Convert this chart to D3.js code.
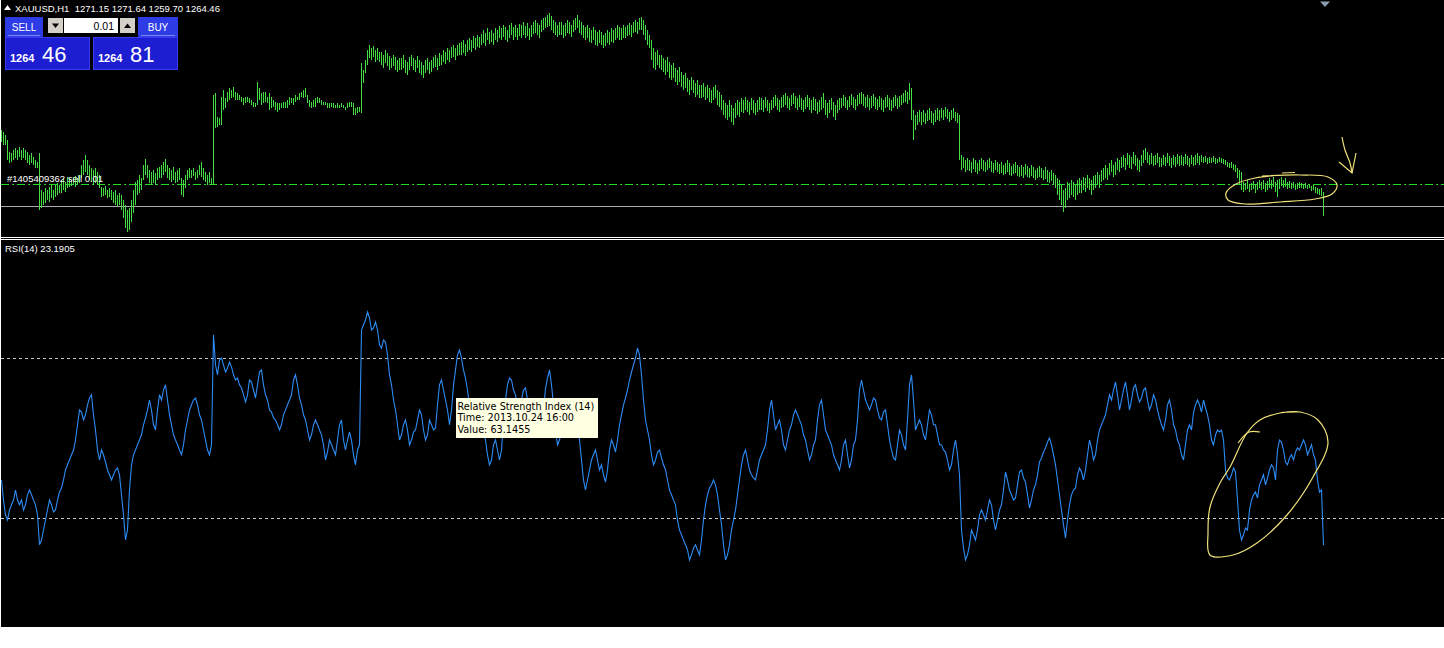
<!DOCTYPE html>
<html>
<head>
<meta charset="utf-8">
<script src="https://cdnjs.cloudflare.com/ajax/libs/d3/7.8.5/d3.min.js"></script>
<style>
  body { margin: 0; background: #fff; }
  svg { display: block; }
  text { font-family: "Liberation Sans", Arial, sans-serif; }
  .tooltip text { font-family: "DejaVu Sans", sans-serif; }
</style>
</head>
<body>
<div id="chart"></div>
<script>
// XAUUSD H1 bars (high / low), one value per hourly bar
var barHigh = [
  1302.5,1301.5,1300,1297.5,1291.5,1291,1292.5,1293.5,1292.5,1294,
  1292.5,1293.5,1292.5,1291.5,1290,1291,1289,1287.5,1286.5,1291,
  1272.5,1271.5,1273.5,1272.5,1274,1275,1272.5,1275,1276,1275,
  1277.5,1278.5,1276.5,1279,1278.5,1277.5,1279,1279.5,1278.5,1280,
  1285,1287.5,1290,1287.5,1285,1283.5,1282.5,1283.5,1281.5,1280,
  1274,1273.5,1274.5,1272.5,1273.5,1272.5,1271.5,1272.5,1270,1271,
  1270,1267.5,1265,1262.5,1263.5,1267.5,1272.5,1276.5,1277.5,1280,
  1278.5,1285,1288,1285,1282.5,1281.5,1282.5,1281,1283.5,1284,
  1285,1286.5,1288,1285,1283.5,1282.5,1284,1281.5,1282.5,1283.5,
  1278.5,1277.5,1280,1282.5,1283.5,1282.5,1283.5,1281.5,1282.5,1285,
  1286.5,1283.5,1281.5,1280,1281.5,1278.5,1320,1321,1309,1308.5,
  1319,1322.5,1318.5,1321.5,1323.5,1322.5,1324,1321.5,1321,1320,
  1319,1318.5,1319,1319,1318.5,1317.5,1316.5,1316,1326.5,1323.5,
  1321,1321.5,1321.5,1319,1321,1319,1317.5,1316.5,1316,1316,
  1316,1316.5,1316.5,1317.5,1319,1318.5,1318.5,1320,1319,1321,
  1321.5,1322.5,1323.5,1320,1317.5,1316.5,1317.5,1318.5,1319,1318.5,
  1317.5,1316.5,1316.5,1316,1316,1316,1316,1315,1316,1315,
  1316,1315,1314,1316,1316.5,1316.5,1316,1313.5,1314,1314,
  1336,1332.5,1337.5,1342.5,1345,1343.5,1344.5,1342.5,1343.5,1341.5,
  1341.5,1340,1342.5,1341,1339.5,1338.5,1340,1339,1337.5,1338.5,
  1338.5,1340,1337.5,1336.5,1339,1340,1338.5,1337.5,1339.5,1337.5,
  1336.5,1335,1337.5,1338.5,1336.5,1337.5,1339,1340,1338.5,1341,
  1340,1342.5,1341.5,1343.5,1342.5,1344,1345,1343.5,1345,1346,
  1346.5,1347.5,1345.5,1347.5,1348.5,1347.5,1349.5,1348.5,1350,1349,
  1350.5,1352.5,1351,1353.5,1351.5,1352.5,1351,1353.5,1352.5,1354.5,
  1353.5,1355,1354,1352.5,1355,1356,1354,1355,1353.5,1355.5,
  1355,1356.5,1354.5,1356,1353.5,1355,1356.5,1357.5,1356,1355,
  1357.5,1358.5,1359,1360,1361,1359.5,1357.5,1356.5,1355,1356.5,
  1356.5,1355,1356,1357.5,1356.5,1355,1357.5,1358.5,1360,1357.5,
  1356.5,1355,1354,1355,1353.5,1352.5,1354,1352.5,1351.5,1352.5,
  1351.5,1350,1351,1352.5,1351.5,1353.5,1352.5,1353.5,1355,1354,
  1353.5,1355,1354,1355,1356,1355,1356.5,1357.5,1356.5,1358.5,
  1359,1357.5,1355,1352.5,1350,1347.5,1343.5,1341.5,1342.5,1340,
  1340,1338.5,1337.5,1339,1336.5,1335,1336,1333.5,1332.5,1334,
  1331.5,1330,1331,1328.5,1327.5,1329,1327.5,1326,1327.5,1325,
  1325,1326,1324,1325,1323.5,1322.5,1324,1325,1322.5,1321.5,
  1320,1317.5,1316,1315,1317.5,1315,1313.5,1316,1317.5,1316.5,
  1318.5,1317.5,1319,1317.5,1316.5,1318.5,1317.5,1316,1317.5,1319,
  1318.5,1317.5,1319,1317.5,1316,1317.5,1319,1320,1318.5,1317.5,
  1319,1320,1321,1319.5,1318.5,1320,1321,1319.5,1318.5,1320,
  1318.5,1317.5,1319,1320,1318.5,1317.5,1319,1318,1316.5,1317.5,
  1319,1321,1317.5,1316,1317.5,1318.5,1316.5,1315,1317.5,1318.5,
  1318.5,1320,1319,1317.5,1319.5,1320.5,1319,1318,1320,1321,
  1321.5,1320.5,1319,1320,1318.5,1319.5,1320.5,1319,1318,1319.5,
  1318.5,1317.5,1319,1320,1318.5,1317.5,1319,1320,1318.5,1319.5,
  1320,1321,1322.5,1321.5,1326,1323.5,1312.5,1310,1311.5,1312.5,
  1311.5,1312.5,1311,1312.5,1313.5,1312,1311,1312.5,1313.5,1312.5,
  1313.5,1312.5,1314,1313,1311.5,1312.5,1313.5,1311.5,1311,1310,
  1290,1289,1287.5,1288.5,1287.5,1286.5,1288.5,1287.5,1286,1287.5,
  1288.5,1287.5,1286.5,1287.5,1288.5,1287,1286,1287.5,1286.5,1285.5,
  1286.5,1285,1286,1287.5,1286,1284.5,1285.5,1286.5,1285,1284,
  1285,1284,1285.5,1284.5,1283.5,1285,1284,1282.5,1283.5,1284.5,
  1283.5,1282.5,1284,1282.5,1281.5,1282.5,1281,1280,1278.5,1277.5,
  1275,1272.5,1273.5,1276.5,1276,1277.5,1276.5,1275,1277.5,1278.5,
  1277.5,1279,1278.5,1280,1278.5,1277.5,1279.5,1280,1281.5,1280,
  1282.5,1283.5,1285,1283.5,1286,1287.5,1285,1286.5,1288.5,1287.5,
  1289,1290,1288.5,1291,1290,1289,1291.5,1290,1288.5,1287.5,
  1290,1292.5,1293.5,1291.5,1290,1291,1289.5,1290,1291,1289,
  1288.5,1290,1289,1291,1289.5,1288.5,1290,1289,1290.5,1289.5,
  1290,1289,1290.5,1289.5,1288.5,1290,1289,1290,1291,1289.5,
  1290,1289,1289.5,1288.5,1289,1288.5,1289.5,1288.5,1288,1289,
  1288.5,1288,1287.5,1286.5,1286,1286.5,1285.5,1285,1283.5,1282.5,
  1281.5,1276.5,1276,1277.5,1275.5,1276,1277,1275.5,1276.5,1277.5,
  1276.5,1277.5,1276,1277,1278.5,1277.5,1279,1276.5,1277.5,1278,
  1279,1277.5,1278.5,1276.5,1277,1276,1276.5,1275.5,1276,1276.5,
  1276,1275.5,1276,1275,1275.5,1274.5,1275,1274,1273.5,1273,1273.5,1271.64
];

var barLow = [
  1296.5,1295,1295,1287.5,1286,1286.5,1287.5,1288.5,1287.5,1289,
  1287.5,1288.5,1287.5,1286,1285,1286,1285,1283.5,1283.5,1262.5,
  1263.5,1265,1266,1267.5,1266.5,1268.5,1267.5,1269,1270,1271,
  1271,1272.5,1271.5,1273.5,1274,1274.5,1275,1274,1275.5,1276,
  1278.5,1280,1281.5,1280,1277.5,1276.5,1275,1276,1275,1273.5,
  1269,1269.5,1270,1268.5,1269,1267.5,1266,1265,1264,1265,
  1262.5,1258.5,1253.5,1251.5,1252.5,1256.5,1261,1265,1270,1271,
  1272.5,1277.5,1280,1278.5,1276,1275,1276,1275,1277.5,1278.5,
  1278.5,1280,1281.5,1278.5,1277.5,1276.5,1277.5,1276,1276.5,1277.5,
  1270,1269,1273.5,1277.5,1278.5,1278.5,1279.5,1277.5,1278.5,1280,
  1279,1277.5,1276.5,1275,1276,1275,1275,1303.5,1304,1305,
  1305,1312.5,1313.5,1316.5,1317.5,1318.5,1319,1317.5,1317.5,1317.5,
  1316.5,1315,1316,1316.5,1316,1315,1314,1314,1315,1317.5,
  1315,1316,1316.5,1316,1312.5,1313.5,1314,1312.5,1311.5,1312.5,
  1313.5,1313.5,1313.5,1313.5,1315,1316,1315,1316.5,1317.5,1317.5,
  1319,1318.5,1319,1316,1314,1313.5,1314,1314,1316,1316,
  1315,1315,1315,1313.5,1313.5,1314,1313.5,1313.5,1313.5,1313.5,
  1314,1313.5,1312.5,1313.5,1314,1314,1310,1310,1311,1311.5,
  1311,1326,1331,1335,1338.5,1337.5,1339,1336.5,1337.5,1336.5,
  1335,1333.5,1336,1334.5,1332.5,1333.5,1334.5,1332.5,1331.5,1332.5,
  1332.5,1333.5,1331,1330,1332.5,1334.5,1332.5,1331.5,1333.5,1331,
  1330,1328.5,1331,1332.5,1330.5,1331.5,1333.5,1334,1332.5,1334.5,
  1335,1336.5,1335.5,1337.5,1336.5,1338.5,1339,1337.5,1339.5,1340,
  1340,1341,1339.5,1341.5,1342.5,1341.5,1343.5,1342.5,1344,1343.5,
  1345,1346,1344.5,1347.5,1345.5,1346.5,1345,1347.5,1346.5,1348.5,
  1347.5,1349,1347.5,1346.5,1348.5,1350,1347.5,1349,1347.5,1349.5,
  1348.5,1350,1348.5,1349.5,1347.5,1349,1350.5,1351,1350,1348.5,
  1351.5,1352.5,1353.5,1354,1354.5,1352.5,1351,1350,1349,1350,
  1350,1348.5,1349.5,1351,1350.5,1349,1351.5,1352.5,1353.5,1351,
  1350,1348.5,1347.5,1348.5,1346.5,1346,1347.5,1345,1344.5,1346,
  1345,1343.5,1344.5,1346,1345,1346.5,1346,1347.5,1348.5,1347.5,
  1347.5,1348.5,1348.5,1349.5,1350,1349,1351,1351.5,1350.5,1352.5,
  1352.5,1350,1347.5,1345,1343.5,1337.5,1333.5,1332.5,1335,1333.5,
  1332.5,1331.5,1330,1331.5,1328.5,1327.5,1328.5,1326.5,1325,1326.5,
  1324,1322.5,1323.5,1321.5,1320,1322.5,1321,1319,1320,1318.5,
  1318.5,1319,1317.5,1318.5,1316.5,1316,1317.5,1318.5,1315,1314,
  1312.5,1310,1308.5,1307.5,1309,1306.5,1305,1308.5,1310,1309,
  1311.5,1311,1312.5,1311.5,1310,1312.5,1311,1310,1311.5,1312.5,
  1312.5,1311.5,1313.5,1312,1311,1312.5,1313.5,1314.5,1312.5,1311.5,
  1313.5,1314,1315,1313.5,1312.5,1314.5,1315.5,1313.5,1312.5,1314,
  1312.5,1311.5,1313,1314,1312.5,1311,1312.5,1312,1310.5,1311.5,
  1312.5,1313.5,1310,1308.5,1311,1312.5,1309,1307.5,1311,1312.5,
  1313.5,1314.5,1313.5,1312.5,1314,1315,1313.5,1312.5,1314.5,1315.5,
  1315.5,1314.5,1313.5,1314,1312.5,1313.5,1314.5,1313,1312.5,1314,
  1312.5,1311.5,1313.5,1314,1312.5,1312,1313.5,1314.5,1313,1314,
  1315,1316,1316.5,1315.5,1317.5,1307.5,1297.5,1302.5,1305,1306.5,
  1305,1306.5,1305.5,1307,1307.5,1306,1305,1306.5,1307.5,1307,
  1308.5,1307.5,1309,1308,1306.5,1307.5,1308.5,1307,1306,1287.5,
  1282.5,1283.5,1281.5,1282.5,1282,1281,1283,1281.5,1280.5,1282,
  1283,1282,1281.5,1282.5,1283.5,1281.5,1281,1282.5,1281.5,1280.5,
  1281,1280,1280.5,1281.5,1280,1279.5,1280.5,1281,1279.5,1279,
  1279.5,1278.5,1280,1279,1278.5,1279.5,1278.5,1277.5,1278.5,1279,
  1278.5,1277.5,1278,1276.5,1276,1277,1275,1273.5,1270,1267.5,
  1265,1261.5,1263.5,1267.5,1268.5,1270,1269,1267.5,1270,1271,
  1271,1272.5,1271.5,1273.5,1272.5,1270,1272.5,1273.5,1275,1273.5,
  1276.5,1277.5,1278.5,1277.5,1280,1281.5,1279,1280,1282.5,1281.5,
  1283.5,1284,1282.5,1285,1283.5,1283,1285.5,1284.5,1282.5,1281.5,
  1284.5,1286,1287.5,1286,1285,1285.5,1284.5,1285,1286,1284,
  1284,1285,1284.5,1286,1284.5,1283.5,1285,1284,1285.5,1284.5,
  1285,1284.5,1285.5,1285,1284,1285.5,1284.5,1285,1286,1285,
  1286.5,1286,1286.5,1285.5,1286,1286,1286.5,1285.5,1286,1286.5,
  1286,1285.5,1285,1284,1283.5,1283.5,1282.5,1281.5,1278.5,1275,
  1272.5,1271.5,1272.5,1273,1271.5,1272.5,1273,1271,1272.5,1273.5,
  1272.5,1273,1271.5,1272.5,1273.5,1273,1274,1271.5,1269,1273,
  1274.5,1273.5,1274,1273,1273.5,1273,1273.5,1272.5,1273,1273.5,
  1273.5,1273,1273.5,1273,1273.5,1272,1272.5,1271,1270.5,1270,1269.5,1259.7
];

// RSI(14) value for each bar
var rsiValues = [
  39.5,34.5,30.8,29.5,32.0,33.3,34.5,37.0,34.5,33.3,
  34.5,32.0,33.3,35.8,37.0,35.8,34.5,33.3,30.8,23.3,
  24.5,27.0,29.5,32.0,34.5,33.3,31.5,32.0,34.5,36.5,
  37.5,39.5,42.0,43.3,44.5,45.8,47.0,49.5,53.3,57.0,
  56.5,54.5,55.8,58.3,60.0,60.8,55.8,52.0,47.0,44.5,
  47.0,45.8,44.0,42.0,40.8,39.5,40.8,42.0,42.5,40.8,
  35.8,30.8,24.5,27.0,37.0,43.3,45.8,47.0,48.3,49.5,
  50.8,53.3,55.0,57.0,59.5,57.0,53.3,52.0,57.0,60.8,
  59.5,62.0,63.3,59.5,55.8,53.3,50.8,49.5,48.3,47.0,
  45.8,48.3,52.0,54.5,57.0,58.3,59.5,60.0,58.3,55.8,
  54.5,52.0,49.5,47.0,45.8,48.3,75.8,68.3,65.8,69.5,
  70.0,68.3,66.5,67.5,69.0,67.8,65.8,64.5,65.0,63.3,
  62.5,60.8,59.0,60.8,64.5,64.0,62.0,60.0,63.3,66.5,
  67.0,63.3,60.8,59.5,57.0,56.5,55.0,54.5,53.3,52.0,
  53.3,55.8,57.0,58.3,59.5,60.8,64.5,65.8,63.3,60.0,
  58.3,55.8,54.5,52.0,49.5,50.8,53.3,54.5,53.3,52.0,
  50.8,48.3,44.5,46.5,49.5,48.3,47.0,45.8,49.5,53.3,
  54.5,49.5,47.0,49.5,51.5,49.5,45.8,43.3,47.0,48.3,
  77.0,78.3,79.5,81.5,80.0,77.0,77.5,79.0,77.0,73.3,
  72.5,74.5,74.0,70.8,65.8,63.3,59.5,57.0,53.3,49.5,
  50.8,53.3,54.5,52.0,48.3,49.5,51.5,52.0,54.5,57.0,
  55.8,52.0,49.5,50.8,54.5,53.3,52.0,52.5,58.3,63.3,
  64.5,62.0,59.5,57.0,53.3,57.0,63.1455,67.0,70.8,72.0,
  70.0,67.0,65.0,62.0,58.3,55.8,53.3,52.0,54.5,57.0,
  55.8,52.0,49.5,45.8,43.3,44.5,48.3,49.5,47.0,44.5,
  47.0,54.5,59.5,63.3,65.0,64.5,62.0,60.8,58.3,57.0,
  59.5,62.0,62.5,59.5,55.8,54.5,58.3,60.0,57.0,53.3,
  52.0,57.0,62.3,65.0,67.0,63.3,58.3,52.0,48.3,49.5,
  52.0,54.5,53.3,52.0,54.5,55.8,54.5,52.0,54.5,49.5,
  44.5,39.5,37.0,39.5,42.0,44.5,45.8,47.0,44.5,42.0,
  43.3,40.8,39.0,42.0,47.0,49.5,48.3,46.5,49.5,53.3,
  55.8,58.3,60.0,62.0,64.5,66.5,68.3,70.0,72.5,70.8,
  65.8,59.5,54.5,52.0,49.5,45.8,43.3,44.5,46.5,47.0,
  45.0,43.3,42.0,39.5,37.0,35.8,34.5,33.3,29.5,27.0,
  25.8,24.5,23.3,22.0,19.5,20.8,22.5,23.3,22.0,20.8,
  24.5,29.5,33.3,35.8,37.5,38.3,39.5,38.3,35.8,32.0,
  28.3,23.3,19.5,20.8,23.3,27.0,29.5,32.0,35.8,39.5,
  43.3,45.8,47.0,44.5,42.0,40.8,40.0,39.5,42.0,44.5,
  45.8,47.0,48.3,52.0,57.0,59.5,55.8,52.0,53.3,54.5,
  52.0,48.3,47.0,49.5,52.0,53.3,55.8,57.0,55.8,54.5,
  53.3,50.8,49.5,47.0,44.5,45.8,48.3,49.5,54.5,58.3,
  59.5,55.8,52.0,50.8,49.5,48.3,45.8,44.5,43.3,42.0,
  44.5,48.3,49.5,45.8,42.5,44.5,48.3,49.5,54.5,62.0,
  64.5,62.0,59.5,58.3,57.0,58.3,60.0,59.5,57.0,55.0,
  54.5,56.5,57.0,53.3,49.5,47.0,45.0,44.5,48.3,52.0,
  50.8,48.3,47.0,54.5,63.3,65.8,59.5,52.0,53.3,54.5,
  53.3,50.8,49.5,53.3,57.0,55.8,53.3,53.3,50.8,48.3,
  48.3,47.0,46.5,44.5,42.0,43.3,47.0,49.5,45.8,40.8,
  27.0,22.5,19.5,20.8,23.3,27.0,25.8,24.5,27.0,30.8,
  32.0,30.8,29.5,32.0,34.5,33.3,29.5,27.0,29.5,32.0,
  33.3,37.0,41.5,39.5,37.0,35.8,34.5,35.0,38.3,41.5,
  42.0,40.0,39.0,35.8,32.5,34.5,37.0,38.3,40.8,44.0,
  45.0,46.5,47.5,49.0,50.0,48.3,45.8,43.3,39.5,35.8,
  32.0,28.3,25.0,29.5,33.3,35.8,37.0,37.5,40.8,42.5,
  41.5,39.5,42.0,45.8,49.5,47.5,44.5,45.8,49.5,52.0,
  53.3,54.5,55.8,58.3,60.8,59.5,62.0,64.0,60.8,57.0,
  59.5,62.0,64.0,60.8,57.0,59.5,62.5,63.3,60.8,59.0,
  60.0,62.0,62.5,59.5,57.0,58.3,60.8,59.5,57.0,55.0,
  53.3,52.0,54.5,58.3,59.5,57.0,53.3,52.0,49.5,48.3,
  45.8,44.5,48.3,52.0,53.3,52.0,56.3,58.3,59.5,58.3,
  56.5,59.5,57.5,55.8,53.3,49.5,48.3,50.8,52.0,51.5,
  52.0,49.5,42.0,40.0,39.5,40.8,42.5,41.5,34.5,27.0,
  24.5,25.8,27.5,27.0,32.0,34.5,35.8,36.5,35.0,38.3,
  39.5,40.8,38.3,40.0,42.0,43.3,42.5,39.5,47.0,49.5,
  49.0,47.0,44.0,43.3,45.0,45.8,44.5,46.5,47.5,47.0,
  48.3,49.5,48.3,45.8,47.0,48.3,45.8,44.5,39.5,36.5,37.0,23.1905
];

var symbol = "XAUUSD,H1";
var lastOHLC = [1271.15, 1271.64, 1259.70, 1264.46];
var bidPrice = 1264.46, askPrice = 1264.81;
var lotSize = "0.01";
var orderTicket = "#1405409362", orderType = "sell", orderPrice = 1275.5;
var rsiPeriod = 14;
var rsiLevels = [70, 30];
var tipIndex = 226, tipTime = "2013.10.24 16:00";

// hand drawn marks, in [bar index, price] and [bar index, rsi]
var priceLoop = [[630.5,1279.5],[649.5,1280],[663.5,1279],[668,1275],[665.5,1270.5],[657,1268],
  [639.5,1266.5],[622,1265.5],[613.5,1267.5],[612.5,1271],[617.5,1275.5],[627,1278.5],[642,1280]];
var priceTick = [[640.5,1281],[647,1281.25]];
var arrowShaft = [[670.5,1299],[672,1292.5],[674.5,1286],[675.5,1281]];
var arrowHead = [[669,1286.5],[675.5,1281],[677.5,1291]];
var rsiLoop = [[639.5,56.25],[649.5,56.5],[658.5,54.5],[663.5,49],[656,40.25],[643,30.75],[628,23.75],
  [616,20.75],[604.5,20.75],[603.5,26.25],[604.5,32.75],[609.5,38.75],[614.5,42.75],[623,51.25],
  [629.5,54.5],[639.5,56.25],[650,56.5]];
var rsiTick = [[618.5,48.75],[624,51.5],[629.5,51.5]];

function mtChart() {
	var width = 1444, height = 648,
			bull = "#44dd44",
			rsiColor = "#2d8cf5",
			ink = "#f0e27a";

	var svg = d3.select("#chart").append("svg")
			.attr("width", width)
			.attr("height", height);

	// Panels
	svg.append("rect").attr("x", 1).attr("y", 0).attr("width", width - 1).attr("height", 237).attr("fill", "#000");
	svg.append("rect").attr("x", 1).attr("y", 238).attr("width", width - 1).attr("height", 1).attr("fill", "#000");
	svg.append("rect").attr("x", 1).attr("y", 240).attr("width", width - 1).attr("height", 387).attr("fill", "#000");

	var xScale = d3.scaleLinear().domain([0, barHigh.length - 1]).range([1, 1323]);
	var yPrice = d3.scaleLinear().domain([1260, 1360]).range([215, 15]);
	var yRsi = d3.scaleLinear().domain([0, 100]).range([638, 238]);

	var px = function(i) { return Math.round(xScale(i)) + 0.5; };

	// Price panel
	var main = svg.append("g").attr("class", "main");

	main.append("line")
			.attr("x1", 1).attr("x2", width)
			.attr("y1", Math.round(yPrice(bidPrice)) + 0.5).attr("y2", Math.round(yPrice(bidPrice)) + 0.5)
			.attr("stroke", "#a9a9b4");

	main.append("line")
			.attr("x1", 1).attr("x2", width)
			.attr("y1", Math.round(yPrice(orderPrice)) + 0.5).attr("y2", Math.round(yPrice(orderPrice)) + 0.5)
			.attr("stroke", "#22dd22")
			.attr("stroke-dasharray", "8,3,2,3");

	main.append("g").attr("class", "bars")
			.selectAll("line")
			.data(barHigh)
		.enter().append("line")
			.attr("x1", function(d, i) { return px(i); })
			.attr("x2", function(d, i) { return px(i); })
			.attr("y1", function(d) { return yPrice(d); })
			.attr("y2", function(d, i) { return Math.max(yPrice(barLow[i]), yPrice(d) + 1); })
			.attr("stroke", bull)
			.attr("shape-rendering", "crispEdges");

	main.append("text")
			.attr("x", 7).attr("y", Math.round(yPrice(orderPrice)) - 2)
			.attr("fill", "#fff").attr("font-size", "9.5px")
			.text(orderTicket + " " + orderType + " " + lotSize);

	// Header
	main.append("path").attr("d", "M4,10L7.5,5L11,10Z").attr("fill", "#fff");
	main.append("text")
			.attr("x", 15).attr("y", 12)
			.attr("fill", "#fff").attr("font-size", "9.5px")
			.attr("xml:space", "preserve")
			.text(symbol + "  " + lastOHLC.map(function(d) { return d.toFixed(2); }).join(" "));

	main.append("path").attr("d", "M1320,1.5L1330,1.5L1325,7Z").attr("fill", "#8a9db0");

	// One click trading panel
	var panel = main.append("g").attr("class", "trade-panel");

	[{x: 5, label: "SELL", w: 38}, {x: 138, label: "BUY", w: 40}].forEach(function(b) {
		panel.append("rect").attr("x", b.x).attr("y", 17).attr("width", b.w).attr("height", 20).attr("fill", "#2e3ce6");
		panel.append("line").attr("x1", b.x + 3).attr("x2", b.x + b.w - 3).attr("y1", 35.5).attr("y2", 35.5).attr("stroke", "#7d88ff");
		panel.append("text").attr("x", b.x + b.w / 2).attr("y", 31)
				.attr("text-anchor", "middle").attr("fill", "#fff").attr("font-size", "10px")
				.text(b.label);
	});

	panel.append("rect").attr("x", 48).attr("y", 18).attr("width", 15).attr("height", 15).attr("fill", "#d4d0c8");
	panel.append("path").attr("d", "M52,23.5L59,23.5L55.5,28Z").attr("fill", "#000");
	panel.append("rect").attr("x", 64).attr("y", 18).attr("width", 54).attr("height", 15).attr("fill", "#fff");
	panel.append("text").attr("x", 114).attr("y", 30)
			.attr("text-anchor", "end").attr("fill", "#000").attr("font-size", "10.5px")
			.text(lotSize);
	panel.append("rect").attr("x", 120).attr("y", 18).attr("width", 15).attr("height", 15).attr("fill", "#d4d0c8");
	panel.append("path").attr("d", "M124,28L131,28L127.5,23.5Z").attr("fill", "#000");

	[{x: 5, price: bidPrice}, {x: 93, price: askPrice}].forEach(function(b) {
		var parts = b.price.toFixed(2).split(".");
		panel.append("rect").attr("x", b.x + 0.5).attr("y", 37.5).attr("width", 84).attr("height", 32)
				.attr("fill", "#1d1dd2").attr("stroke", "#3a3af2");
		panel.append("text").attr("x", b.x + 5).attr("y", 62)
				.attr("fill", "#fff").attr("font-size", "11px").attr("font-weight", "bold")
				.text(parts[0]);
		panel.append("text").attr("x", b.x + 37).attr("y", 62)
				.attr("fill", "#fff").attr("font-size", "22px")
				.text(parts[1]);
	});

	// RSI panel
	var sub = svg.append("g").attr("class", "rsi");

	sub.selectAll(".level")
			.data(rsiLevels)
		.enter().append("line")
			.attr("class", "level")
			.attr("x1", 1).attr("x2", width)
			.attr("y1", function(d) { return Math.round(yRsi(d)) + 0.5; })
			.attr("y2", function(d) { return Math.round(yRsi(d)) + 0.5; })
			.attr("stroke", "#c8c8c8")
			.attr("stroke-dasharray", "3,3");

	var rsiLine = d3.line()
			.x(function(d, i) { return xScale(i) + 0.5; })
			.y(function(d) { return yRsi(d); });

	sub.append("path")
			.datum(rsiValues)
			.attr("d", rsiLine)
			.attr("fill", "none")
			.attr("stroke", rsiColor)
			.attr("stroke-width", 1.1);

	sub.append("text")
			.attr("x", 5).attr("y", 252)
			.attr("fill", "#fff").attr("font-size", "9.5px")
			.text("RSI(" + rsiPeriod + ") " + rsiValues[rsiValues.length - 1].toFixed(4));

	// Hand drawn marks
	var priceInk = d3.line()
			.x(function(d) { return xScale(d[0]); })
			.y(function(d) { return yPrice(d[1]); });
	var rsiInk = d3.line()
			.x(function(d) { return xScale(d[0]); })
			.y(function(d) { return yRsi(d[1]); });

	var marks = svg.append("g").attr("class", "marks")
			.attr("fill", "none").attr("stroke", ink).attr("stroke-width", 1.2);
	marks.append("path").attr("d", priceInk.curve(d3.curveCatmullRom)(priceLoop));
	marks.append("path").attr("d", d3.line().x(priceInk.x()).y(priceInk.y())(priceTick));
	marks.append("path").attr("d", priceInk.curve(d3.curveCatmullRom)(arrowShaft));
	marks.append("path").attr("d", d3.line().x(priceInk.x()).y(priceInk.y())(arrowHead));
	marks.append("path").attr("d", rsiInk.curve(d3.curveCatmullRom)(rsiLoop));
	marks.append("path").attr("d", rsiInk.curve(d3.curveCatmullRom)(rsiTick));

	// Tooltip
	var tip = svg.append("g").attr("class", "tooltip").attr("transform", "translate(456,398)");
	tip.append("rect").attr("width", 142).attr("height", 40).attr("fill", "#ffffe1");
	tip.selectAll("text")
			.data(["Relative Strength Index (" + rsiPeriod + ")", "Time: " + tipTime, "Value: " + rsiValues[tipIndex].toFixed(4)])
		.enter().append("text")
			.attr("x", 1.5)
			.attr("y", function(d, i) { return 12 + i * 11.3; })
			.attr("fill", "#000")
			.style("font-size", "9.7px")
			.text(function(d) { return d; });
}

mtChart();
</script>
</body>
</html>
